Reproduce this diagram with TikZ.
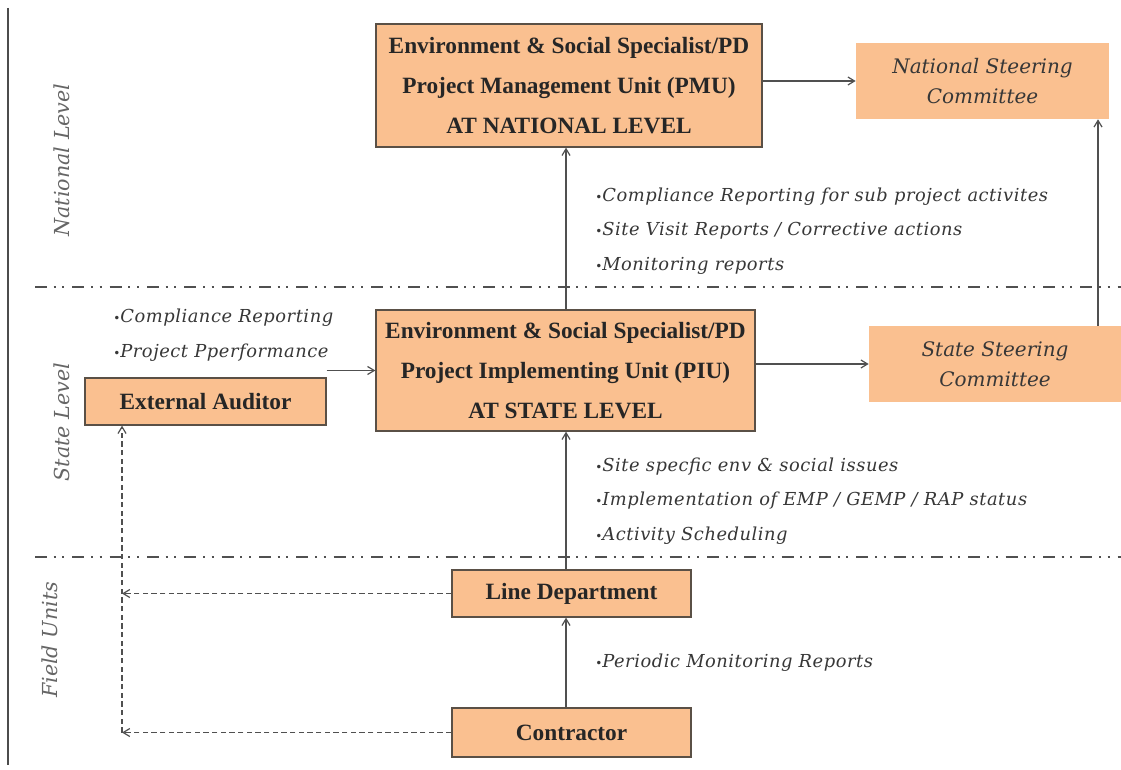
\documentclass[tikz,border=0pt]{standalone}
\usepackage{fontspec}
\setmainfont{Liberation Serif}
\newfontfamily\notefont[LetterSpace=3]{DejaVu Serif}
\newfontfamily\labelfont{DejaVu Serif}
\usetikzlibrary{arrows.meta}
\definecolor{boxfill}{RGB}{250,192,144}
\definecolor{boxline}{RGB}{90,80,70}
\definecolor{linegray}{RGB}{80,80,80}
\definecolor{notegray}{RGB}{55,55,55}
\newcommand{\blt}{{\fontsize{9}{9}\selectfont\textbullet}}
\begin{document}
\begin{tikzpicture}[x=0.75pt,y=-0.75pt,
  unitbox/.style={draw=boxline,line width=1pt,fill=boxfill,align=center,
    font=\fontsize{17.5}{30}\selectfont\bfseries,text=black!85,inner sep=0pt},
  committee/.style={fill=boxfill,align=center,inner sep=0pt,
    font=\labelfont\itshape\fontsize{15}{22.5}\selectfont,text=notegray},
  note/.style={anchor=west,align=left,inner sep=0pt,
    font=\notefont\itshape\fontsize{13.4}{26}\selectfont,text=notegray},
  levellabel/.style={rotate=90,inner sep=0pt,
    font=\labelfont\itshape\fontsize{15.5}{17}\selectfont,text=black!60},
  arr/.style={-{Straight Barb[length=5pt,width=6pt]},draw=linegray,line width=0.9pt},
  darr/.style={arr,dashed,dash pattern=on 4pt off 2.5pt},
  divider/.style={draw=linegray,line width=2pt,
    dash pattern=on 9pt off 5pt on 1.5pt off 5pt on 1.5pt off 6pt}]
\useasboundingbox[fill=white] (0,0) rectangle (1121,770);

% frame edge on the left
\draw[black!70,line width=1pt] (8,8) -- (8,765);

% level dividers
\coordinate (d1a) at (35,287);
\coordinate (d1b) at (1121,287);
\coordinate (d2a) at (35,557);
\coordinate (d2b) at (1121,557);
\draw[divider] (d1a) -- (d1b);
\draw[divider] (d2a) -- (d2b);

% level labels
\node[levellabel] (lnat) at (62,160) {National Level};
\node[levellabel] (lsta) at (62,422) {State Level};
\node[levellabel] (lfld) at (50,640) {Field Units};

% units (sizes in pt: 1 px = 0.75 pt)
\node[unitbox,minimum width=289.5pt,minimum height=92.25pt] (pmu) at (569,85.5)
  {Environment \& Social Specialist/PD\\Project Management Unit (PMU)\\AT NATIONAL LEVEL};
\node[committee,minimum width=189.75pt,minimum height=57pt] (nsc) at (982.5,81)
  {National Steering\\Committee};
\node[unitbox,minimum width=284.25pt,minimum height=90.75pt] (piu) at (565.5,370.5)
  {Environment \& Social Specialist/PD\\Project Implementing Unit (PIU)\\AT STATE LEVEL};
\node[committee,minimum width=189pt,minimum height=57pt] (ssc) at (995,364)
  {State Steering\\Committee};
\node[unitbox,minimum width=180.75pt,minimum height=35.25pt] (ea) at (205.5,401.5) {External Auditor};
\node[unitbox,minimum width=179.25pt,minimum height=35.25pt] (ld) at (571.5,593.5) {Line Department};
\node[unitbox,minimum width=179.25pt,minimum height=36.75pt] (ct) at (571.5,732.5) {Contractor};

% notes
\node[note] (n1) at (595,231) {\blt Compliance Reporting for sub project activites\\
  \blt Site Visit Reports / Corrective actions\\
  \blt Monitoring reports};
\node[note] (n2) at (113,335) {\blt Compliance Reporting\\
  \blt Project Pperformance};
\node[note] (n3) at (595,501) {\blt Site specfic env \& social issues\\
  \blt Implementation of EMP / GEMP / RAP status\\
  \blt Activity Scheduling};
\node[note] (n4) at (595,663) {\blt Periodic Monitoring Reports};

% connector columns
\coordinate (spine) at (566,0);
\coordinate (rcol) at (1098,0);
\coordinate (dcol) at (122,0);

% reporting lines
\draw[arr] (pmu.east |- nsc.west) -- (nsc.west);
\draw[arr] (piu.north -| spine) -- (pmu.south -| spine);
\draw[arr] (piu.east |- ssc.west) -- (ssc.west);
\draw[arr] (ssc.north -| rcol) -- (nsc.south -| rcol);
\draw[arr] (ea.east |- piu.west) -- (piu.west);
\draw[arr] (ld.north -| spine) -- (piu.south -| spine);
\draw[arr] (ct.north -| spine) -- (ld.south -| spine);

% audit feedback
\draw[darr] (ld.west) -- (ld.west -| dcol);
\draw[darr] (ct.west) -- (ct.west -| dcol);
\draw[darr] (ct.west -| dcol) -- (ea.south -| dcol);
\end{tikzpicture}
\end{document}
